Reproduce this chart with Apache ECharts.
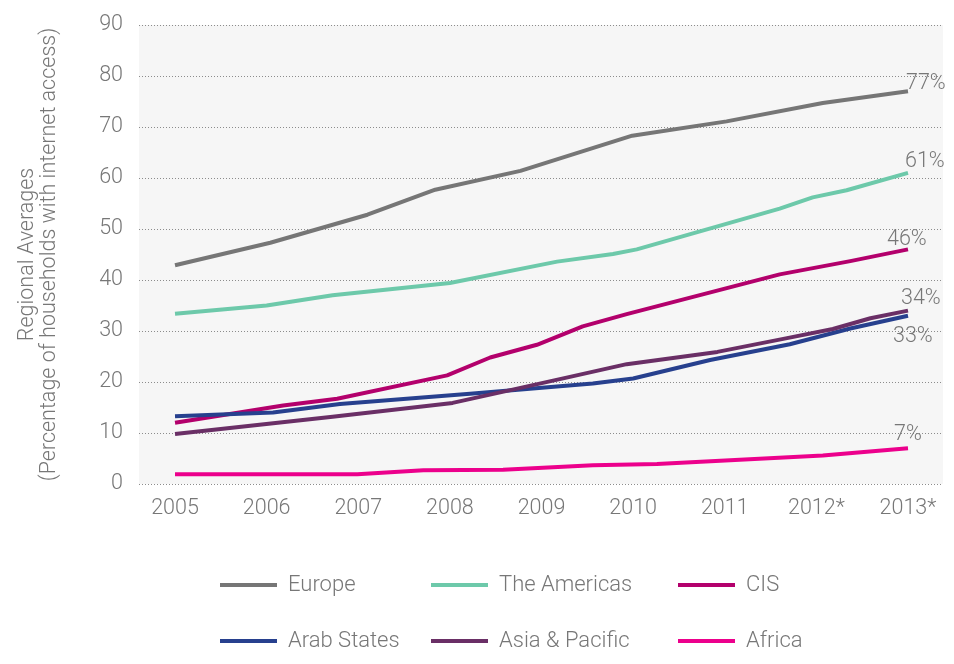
<!DOCTYPE html>
<html>
<head>
<meta charset="utf-8">
<title>Households with internet access, by region</title>
<script src="https://cdn.jsdelivr.net/npm/echarts@6/dist/echarts.min.js"></script>
<style>
  html, body { margin: 0; padding: 0; background: #ffffff; }
  #chart { width: 954px; height: 664px; }
</style>
</head>
<body>
<div id="chart"></div>
<script>
// Year ticks shown along the bottom axis (2012 and 2013 are estimates)
const yearTicks = [2005, 2006, 2007, 2008, 2009, 2010, 2011, 2012, 2013];
const yearTickLabels = ['2005', '2006', '2007', '2008', '2009', '2010', '2011', '2012*', '2013*'];

// Regional averages, % of households with internet access.
// Each region is a polyline: time (in years) and value at each vertex.
const europeYears    = [2005, 2006.04, 2007.10, 2007.84, 2008.77, 2009.99, 2011.02, 2012.07, 2013];
const europeValues   = [42.9, 47.3, 52.8, 57.7, 61.4, 68.3, 71.1, 74.7, 77];

const americasYears  = [2005, 2006.00, 2006.72, 2008.00, 2009.17, 2009.78, 2010.04, 2011.60, 2011.96, 2012.33, 2013];
const americasValues = [33.4, 35.0, 37.0, 39.4, 43.6, 45.1, 46.0, 54.0, 56.2, 57.6, 61];

const cisYears       = [2005, 2006.18, 2006.77, 2007.97, 2008.44, 2008.95, 2009.45, 2009.93, 2011.60, 2012.37, 2013];
const cisValues      = [12.0, 15.4, 16.7, 21.3, 24.8, 27.3, 30.9, 33.3, 41.1, 43.7, 46];

const arabYears      = [2005, 2006.07, 2006.80, 2008.22, 2009.56, 2010.00, 2010.84, 2011.71, 2012.37, 2013];
const arabValues     = [13.3, 14.0, 15.7, 17.7, 19.7, 20.7, 24.3, 27.4, 30.5, 33];

const asiaYears      = [2005, 2006.72, 2008.03, 2008.66, 2009.31, 2009.93, 2010.92, 2011.68, 2012.18, 2012.59, 2013];
const asiaValues     = [9.8, 13.2, 15.9, 18.4, 21.0, 23.5, 25.9, 28.6, 30.4, 32.5, 34];

const africaYears    = [2005, 2006.99, 2007.71, 2008.58, 2009.56, 2010.26, 2012.07, 2013];
const africaValues   = [1.9, 1.9, 2.7, 2.8, 3.7, 3.9, 5.6, 7];

const textColor = '#777777';
const fontFamily = 'Roboto, "Liberation Sans", sans-serif';
const axisFontSize = 21.5;

function pairs(xs, ys) {
  return xs.map((x, i) => [x, ys[i]]);
}

// One line per region, with its final value printed next to the line end
function regionSeries(name, color, xs, ys, labelOffset) {
  return {
    name: name,
    type: 'line',
    data: pairs(xs, ys),
    showSymbol: false,
    symbol: 'none',
    smooth: false,
    color: color,
    lineStyle: { width: 4, color: color, cap: 'butt', join: 'round' },
    emphasis: { disabled: true },
    endLabel: {
      show: true,
      distance: 0,
      offset: labelOffset,
      formatter: p => Math.round(p.value[1]) + '%',
      color: textColor,
      fontFamily: fontFamily,
      fontWeight: 300,
      fontSize: axisFontSize
    }
  };
}

const legendText = {
  color: textColor,
  fontFamily: fontFamily,
  fontWeight: 300,
  fontSize: 22,
  lineHeight: 24,
  padding: [0, 0, 0, 6]
};

// Legend laid out as three columns of two entries each
function legendColumn(left, names) {
  return {
    orient: 'vertical',
    left: left,
    top: 573,
    padding: 0,
    itemWidth: 57,
    itemHeight: 4,
    itemGap: 32,
    icon: 'rect',
    selectedMode: false,
    data: names,
    textStyle: legendText
  };
}

const chart = echarts.init(document.getElementById('chart'), null, { renderer: 'canvas' });

chart.setOption({
  animation: false,
  backgroundColor: '#ffffff',
  grid: {
    left: 139,
    right: 11,
    top: 25,
    bottom: 180,
    show: true,
    backgroundColor: '#f6f6f6',
    borderWidth: 0
  },
  legend: [
    legendColumn(220, ['Europe', 'Arab States']),
    legendColumn(431, ['The Americas', 'Asia & Pacific']),
    legendColumn(678, ['CIS', 'Africa'])
  ],
  xAxis: {
    type: 'value',
    min: yearTicks[0] - 0.393,
    max: yearTicks[yearTicks.length - 1] + 0.382,
    axisLine: { show: false },
    axisTick: { show: false },
    splitLine: { show: false },
    axisLabel: {
      customValues: yearTicks,
      formatter: v => yearTickLabels[yearTicks.indexOf(Math.round(v))],
      color: textColor,
      fontFamily: fontFamily,
      fontWeight: 300,
      fontSize: axisFontSize,
      margin: 14
    }
  },
  yAxis: {
    type: 'value',
    min: 0,
    max: 90,
    interval: 10,
    name: 'Regional Averages\n(Percentage of households with internet access)',
    nameLocation: 'middle',
    nameRotate: 90,
    nameGap: 78,
    nameTextStyle: {
      color: textColor,
      fontFamily: fontFamily,
      fontWeight: 300,
      fontSize: axisFontSize,
      lineHeight: 22,
      align: 'center'
    },
    axisLine: { show: false },
    axisTick: { show: false },
    axisLabel: {
      color: textColor,
      fontFamily: fontFamily,
      fontWeight: 300,
      fontSize: axisFontSize,
      margin: 16
    },
    splitLine: {
      show: true,
      lineStyle: { type: [1, 2], color: '#8c8c8c', width: 1 }
    }
  },
  series: [
    regionSeries('Europe', '#767676', europeYears, europeValues, [-2, -8]),
    regionSeries('The Americas', '#6dc9aa', americasYears, americasValues, [-3, -11]),
    regionSeries('CIS', '#b3006c', cisYears, cisValues, [-21, -10]),
    regionSeries('Arab States', '#27408e', arabYears, arabValues, [-15, 21]),
    regionSeries('Asia & Pacific', '#6a2f66', asiaYears, asiaValues, [-7, -12]),
    regionSeries('Africa', '#ec008c', africaYears, africaValues, [-14, -14])
  ]
});
</script>
</body>
</html>
